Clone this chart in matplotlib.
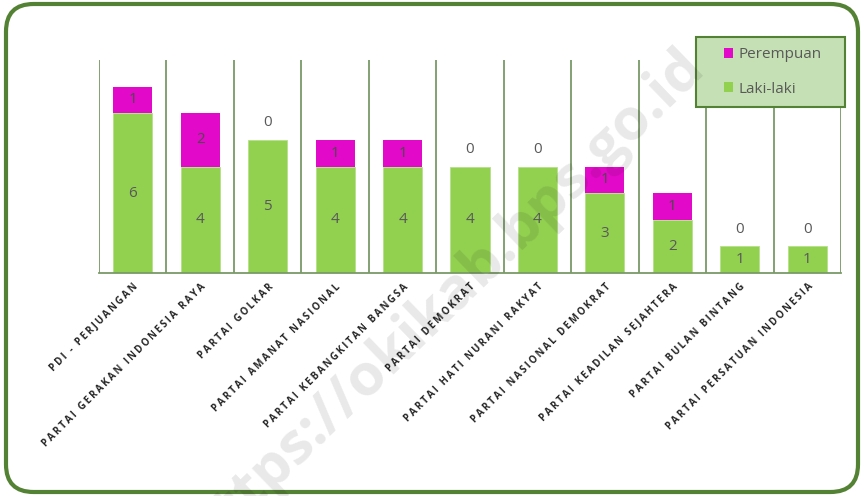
import matplotlib.pyplot as plt
from matplotlib.patches import FancyBboxPatch, Patch, Rectangle

parties = ['PDI - PERJUANGAN', 'PARTAI GERAKAN INDONESIA RAYA', 'PARTAI GOLKAR',
           'PARTAI AMANAT NASIONAL', 'PARTAI KEBANGKITAN BANGSA', 'PARTAI DEMOKRAT',
           'PARTAI HATI NURANI RAKYAT', 'PARTAI NASIONAL DEMOKRAT',
           'PARTAI KEADILAN SEJAHTERA', 'PARTAI BULAN BINTANG',
           'PARTAI PERSATUAN INDONESIA']
laki = [6, 4, 5, 4, 4, 4, 4, 3, 2, 1, 1]
perempuan = [1, 2, 0, 1, 1, 0, 0, 1, 1, 0, 0]

green = '#92d050'
magenta = '#e20ac8'
frame_green = '#548235'
line_green = '#7a9a68'
txt = '#595959'

plt.rcParams['font.family'] = ['Open Sans', 'DejaVu Sans']

fig = plt.figure(figsize=(8.62, 4.96), dpi=100)

# rounded outer frame
frame = FancyBboxPatch((6 / 862, 4 / 496), 852 / 862, 488 / 496,
                       boxstyle='round,pad=0,rounding_size=0.032',
                       transform=fig.transFigure, facecolor='none',
                       edgecolor=frame_green, linewidth=3, mutation_aspect=862 / 496,
                       zorder=-1)
fig.patches.append(frame)

ax = fig.add_axes([99 / 862, 1 - 273 / 496, 742 / 862, 213 / 496])
ax.set_facecolor('none')
x = list(range(len(parties)))
ax.bar(x, laki, width=0.58, color=green, edgecolor='#b5e08a', linewidth=0.6, zorder=2)
ax.bar(x, perempuan, width=0.58, bottom=laki, color=magenta, linewidth=0, zorder=2)

for i in x:
    ax.text(i, laki[i] / 2, str(laki[i]), ha='center', va='center', fontsize=11,
            color=txt, zorder=3)
    if perempuan[i] > 0:
        ax.text(i, laki[i] + perempuan[i] / 2, str(perempuan[i]), ha='center',
                va='center', fontsize=11, color='#4a4a4a', zorder=3)
    else:
        ax.text(i, laki[i] + 0.65, '0', ha='center', va='center', fontsize=11,
                color=txt, zorder=3)

for b in range(len(parties) + 1):
    ax.axvline(b - 0.5, color=line_green, linewidth=1.3, zorder=1)

ax.set_xlim(-0.5, len(parties) - 0.5)
ax.set_ylim(0, 8)
for s in ['top', 'right', 'left']:
    ax.spines[s].set_visible(False)
ax.spines['bottom'].set_color(line_green)
ax.spines['bottom'].set_linewidth(1.3)
ax.set_yticks([])
ax.set_xticks(x)
# letter-spaced caps, like the original
spaced = ['\u2009 \u2009'.join('\u2009'.join(w) for w in p.split(' ')) for p in parties]
ax.set_xticklabels(spaced, rotation=45, ha='right', va='top', rotation_mode='anchor',
                   fontsize=7, fontweight='bold', color='#262626')
ax.tick_params(axis='x', length=0, pad=6)

# legend box
ax.add_patch(Rectangle((696 / 862, 1 - 107 / 496), 149 / 862, 70 / 496,
                       transform=fig.transFigure, facecolor='#c5e0b4',
                       edgecolor=frame_green, linewidth=1.5, zorder=4, clip_on=False))
handles = [Patch(facecolor=magenta, label='Perempuan'),
           Patch(facecolor=green, label='Laki-laki')]
leg = ax.legend(handles=handles, loc='center left',
                bbox_to_anchor=(724 / 862, 1 - 72 / 496), bbox_transform=fig.transFigure,
                frameon=False, fontsize=11, handlelength=0.6, handleheight=0.6,
                handletextpad=0.35, labelspacing=1.25, borderpad=0, borderaxespad=0)
leg.set_zorder(5)
for t in leg.get_texts():
    t.set_color(txt)

fig.text(445 / 862, 1 - 300 / 496, 'https://okikab.bps.go.id', rotation=44,
         ha='center', va='center', fontsize=42, fontweight='bold', color='black',
         alpha=0.09, zorder=10)

fig.savefig('out.png', dpi=100)
